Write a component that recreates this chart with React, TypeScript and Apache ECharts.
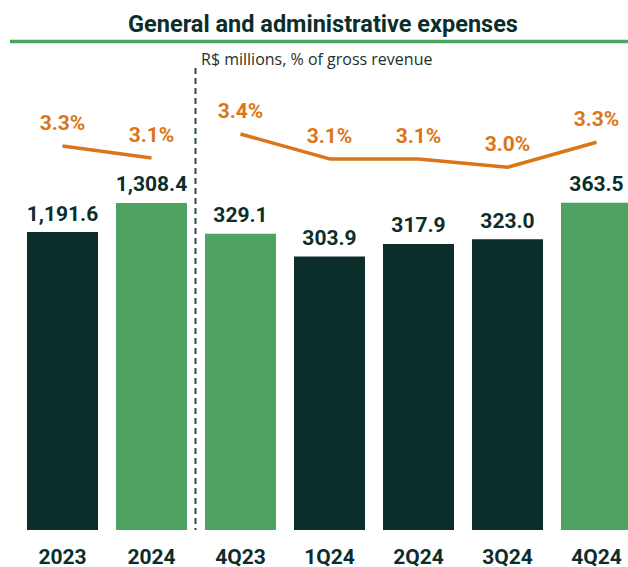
import React, { useEffect, useRef } from "react";
import * as echarts from "echarts";

const categories = ["2023", "2024", "4Q23", "1Q24", "2Q24", "3Q24", "4Q24"];
const annualExpenses = [1191.6, 1308.4, null, null, null, null, null];
const quarterlyExpenses = [null, null, 329.1, 303.9, 317.9, 323.0, 363.5];
const annualPct = [3.3, 3.1, null, null, null, null, null];
const quarterlyPct = [null, null, 3.4, 3.1, 3.1, 3.0, 3.3];
const highlighted = [false, true, true, false, false, false, true];

const DARK = "#0C2E2B";
const GREEN = "#4DA35F";
const ORANGE = "#DC7516";
const FONT = "Roboto";

function fmt(v: number) {
  return v.toLocaleString("en-US", { minimumFractionDigits: 1, maximumFractionDigits: 1 });
}

export default function App() {
  const ref = useRef<HTMLDivElement>(null);
  useEffect(() => {
    document.body.style.margin = "0";
    if (!ref.current) return;
    const chart = echarts.init(ref.current, null, { renderer: "svg" });
    const barData = (arr: (number | null)[]) =>
      arr.map((v, i) =>
        v == null ? "-" : { value: v, itemStyle: { color: highlighted[i] ? GREEN : DARK } }
      );
    const lineData = (arr: (number | null)[]) => arr.map((v) => (v == null ? "-" : v));
    const barLabel = {
      show: true,
      position: "top",
      distance: 8,
      fontFamily: FONT,
      fontWeight: "bold",
      fontSize: 21,
      color: DARK,
      formatter: (p: any) => fmt(p.value),
    };
    const pctLabel = {
      show: true,
      position: "top",
      distance: 12,
      fontFamily: FONT,
      fontWeight: "bold",
      fontSize: 21,
      color: ORANGE,
      formatter: (p: any) => p.value.toFixed(1) + "%",
    };
    chart.setOption({
      animation: false,
      grid: { left: 18, width: 623, top: 50, bottom: 37, outerBoundsMode: "none", containLabel: false },
      xAxis: {
        type: "category",
        data: categories,
        axisLine: { show: false },
        axisTick: { show: false },
        axisLabel: {
          margin: 16,
          fontFamily: FONT,
          fontWeight: "bold",
          fontSize: 21,
          color: DARK,
          interval: 0,
        },
      },
      yAxis: [
        { type: "value", show: false, min: 0, max: 1920 },
        { type: "value", show: false, min: 0, max: 533.333 },
        { type: "value", show: false, min: -3.1, max: 4.9 },
        { type: "value", show: false, min: -1.371, max: 4.412 },
      ],
      series: [
        {
          type: "bar",
          yAxisIndex: 0,
          data: barData(annualExpenses),
          barWidth: 71,
          barGap: "-100%",
          label: barLabel,
        },
        {
          type: "bar",
          yAxisIndex: 1,
          data: barData(quarterlyExpenses),
          barWidth: 71,
          barGap: "-100%",
          label: barLabel,
        },
        {
          type: "line",
          yAxisIndex: 2,
          data: lineData(annualPct),
          symbol: "circle",
          symbolSize: 1,
          itemStyle: { color: "rgba(0,0,0,0)" },
          lineStyle: { color: ORANGE, width: 3.5 },
          label: pctLabel,
        },
        {
          type: "line",
          yAxisIndex: 3,
          data: lineData(quarterlyPct),
          symbol: "circle",
          symbolSize: 1,
          itemStyle: { color: "rgba(0,0,0,0)" },
          lineStyle: { color: ORANGE, width: 3.5 },
          label: pctLabel,
        },
      ],
      graphic: [
        {
          type: "text",
          x: 323,
          y: 24,
          style: {
            text: "General and administrative expenses",
            fontFamily: FONT,
            fontWeight: "bold",
            fontSize: 23.5,
            fill: DARK,
            align: "center",
            verticalAlign: "middle",
          },
        },
        {
          type: "line",
          shape: { x1: 10, y1: 41.5, x2: 628, y2: 41.5 },
          style: { stroke: GREEN, lineWidth: 3.5 },
        },
        {
          type: "text",
          x: 201,
          y: 59,
          style: {
            text: "R$ millions, % of gross revenue",
            fontFamily: "Open Sans",
            fontSize: 16,
            fill: "#1E302E",
            verticalAlign: "middle",
          },
        },
        {
          type: "line",
          shape: { x1: 195.5, y1: 68, x2: 195.5, y2: 530 },
          style: { stroke: "#2F4A46", lineWidth: 2, lineDash: [6, 4] },
        },
      ],
    });
    return () => chart.dispose();
  }, []);
  return <div ref={ref} style={{ width: 628, height: 567 }} />;
}
